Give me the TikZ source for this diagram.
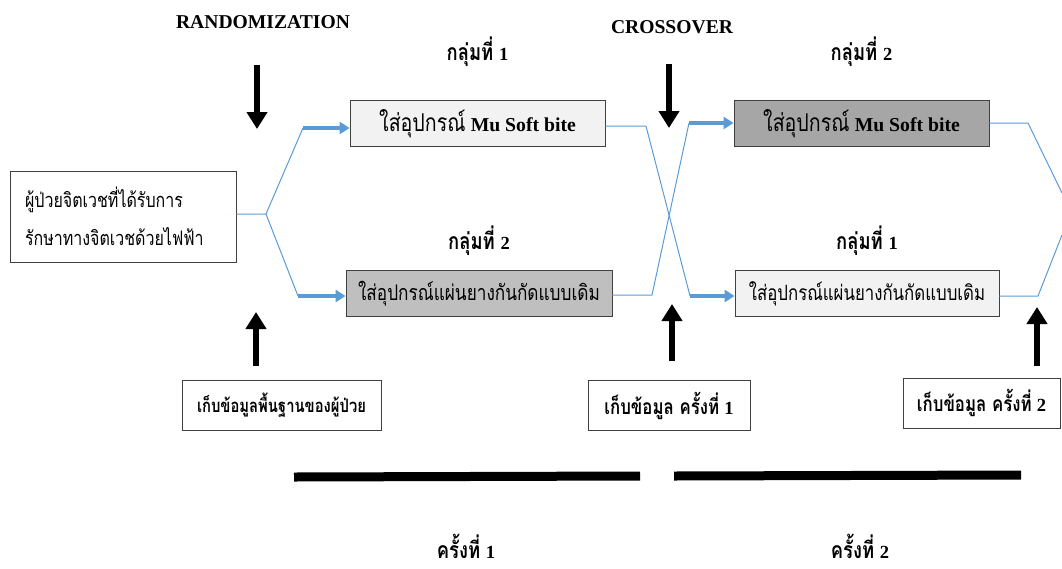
\documentclass[tikz,border=0pt]{standalone}
\usepackage{fontspec}
\setmainfont{Liberation Serif}
\newfontfamily\thai[Script=Thai, FakeStretch=0.8]{Loma}
\usetikzlibrary{arrows.meta,positioning}
\definecolor{linkblue}{RGB}{91,155,213}
\definecolor{boxlight}{RGB}{242,242,242}
\definecolor{boxmid}{RGB}{191,191,191}
\definecolor{boxdark}{RGB}{166,166,166}
\newcommand{\txtsize}{\fontsize{21}{24}\selectfont}
\newcommand{\lat}[1]{{\fontsize{18.5}{22}\selectfont #1}}

\begin{document}
\begin{tikzpicture}[x=1pt,y=-1pt,>=Stealth]
  \tikzset{
    stage/.style={draw=black!75, line width=0.9pt, minimum height=46pt, inner sep=2pt, font=\txtsize},
    datbox/.style={draw=black!75, line width=0.9pt, fill=white, minimum height=50pt, font=\txtsize\bfseries},
    head/.style={font=\bfseries\fontsize{19.6}{22}\selectfont},
    grp/.style={font=\bfseries\fontsize{23}{26}\selectfont},
    link/.style={draw=linkblue, line width=1pt},
    feed/.style={draw=linkblue, line width=3.5pt, -{Triangle[length=10pt,width=12pt]}},
    bigarrow/.style={line width=6pt, -{Triangle[length=17pt,width=20pt]}},
    bar/.style={line width=9pt}
  }
  \useasboundingbox (0,0) rectangle (1062,568);
  % patient box
  \node[draw=black!75, line width=0.9pt, minimum width=226pt, minimum height=91pt,
        font=\fontsize{20}{24}\selectfont, align=left, text width=196pt] (start) at (123,216.5)
        {\thai ผู้ป่วยจิตเวชที่ได้รับการ\\[14pt]\thai รักษาทางจิตเวชด้วยไฟฟ้า};
  % period 1
  \node[stage, fill=boxlight, minimum width=255pt] (muA) at (477.5,123.5)
        {{\fontsize{24.5}{26}\selectfont\thai ใส่อุปกรณ์} {\bfseries\fontsize{19.7}{22}\selectfont Mu Soft bite}};
  \node[stage, fill=boxmid, minimum width=266pt, font=\fontsize{21.5}{24}\selectfont] (padB) at (479,293.5)
        {\thai ใส่อุปกรณ์แผ่นยางกันกัดแบบเดิม};
  % period 2
  \node[stage, fill=boxdark, minimum width=255pt] (muC) at (861.5,123.5)
        {{\fontsize{24.5}{26}\selectfont\thai ใส่อุปกรณ์} {\bfseries\fontsize{19.7}{22}\selectfont Mu Soft bite}};
  \node[stage, fill=boxlight, minimum width=264pt] (padD) at (867,293.5)
        {\thai ใส่อุปกรณ์แผ่นยางกันกัดแบบเดิม};
  \node[grp, above=30pt of muA] (gA) {{\thai กลุ่มที่} \lat{1}};
  \node[grp, above=11pt of padB] (gB) {{\thai กลุ่มที่} \lat{2}};
  \node[grp, above=30pt of muC] (gC) {{\thai กลุ่มที่} \lat{2}};
  \node[grp, above=11pt of padD] (gD) {{\thai กลุ่มที่} \lat{1}};
  % data collection
  \node[datbox, minimum width=199pt, font=\fontsize{18.5}{22}\selectfont\bfseries] (base) at (281.5,405) {\thai เก็บข้อมูลพื้นฐานของผู้ป่วย};
  \node[datbox, minimum width=162pt] (rec1) at (669,405.5) {{\thai เก็บข้อมูล ครั้งที่} \lat{1}};
  \node[datbox, minimum width=157pt] (rec2) at (981.5,403) {{\thai เก็บข้อมูล ครั้งที่} \lat{2}};
  \node[head] (rand) at (263,22) {RANDOMIZATION};
  \node[head] (cross) at (672,27) {CROSSOVER};
  \node[grp] (per1) at (466,546) {{\thai ครั้งที่} \lat{1}};
  \node[grp] (per2) at (860,546) {{\thai ครั้งที่} \lat{2}};
  % blue links
  \coordinate (split) at (266,214);
  \coordinate (up1) at (303,128);
  \coordinate (dn1) at (298,296);
  \draw[link] (start.east |- split) -- (split) -- (up1);
  \draw[link] (split) -- (dn1);
  \draw[feed] (up1) -- (muA.west |- up1);
  \draw[feed] (dn1) -- (padB.west |- dn1);
  \coordinate (a1) at (646,126);
  \coordinate (a2) at (690,296);
  \coordinate (b1) at (652,295);
  \coordinate (b2) at (689,123);
  \draw[link] (muA.east |- a1) -- (a1) -- (a2);
  \draw[link] (padB.east |- b1) -- (b1) -- (b2);
  \draw[feed] (a2) -- (padD.west |- a2);
  \draw[feed] (b2) -- (muC.west |- b2);
  \coordinate (c1) at (1028,123);
  \coordinate (c2) at (1062,193);
  \coordinate (d1) at (1038,296);
  \coordinate (d2) at (1062,235);
  \draw[link] (muC.east |- c1) -- (c1) -- (c2);
  \draw[link] (padD.east |- d1) -- (d1) -- (d2);
  % black arrows
  \coordinate (r0) at (257,65);   \coordinate (r1) at (257,129);
  \coordinate (x0) at (669,64);   \coordinate (x1) at (669,128);
  \coordinate (s0) at (256,366);  \coordinate (s1) at (256,312);
  \coordinate (t0) at (672,361);  \coordinate (t1) at (672,304);
  \coordinate (u0) at (1037,366); \coordinate (u1) at (1037,307);
  \foreach \f/\t in {r0/r1, x0/x1, s0/s1, t0/t1, u0/u1}
    \draw[bigarrow] (\f) -- (\t);
  % period bars
  \draw[bar] (294,477) -- (640,476);
  \draw[bar] (674,476) -- (1021,475);
\end{tikzpicture}
\end{document}
